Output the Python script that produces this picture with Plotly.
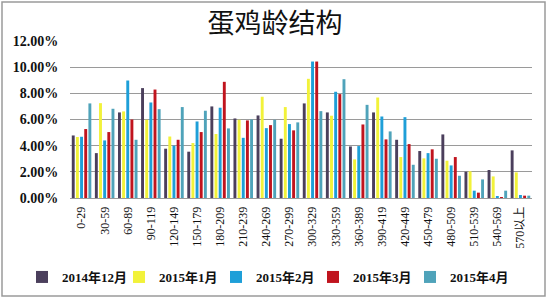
import plotly.graph_objects as go

categories = ["0-29", "30-59", "60-89", "90-119", "120-149", "150-179", "180-209",
              "210-239", "240-269", "270-299", "300-329", "330-359", "360-389",
              "390-419", "420-449", "450-479", "480-509", "510-539", "540-569", "570以上"]

s_2014_12 = [4.78, 3.43, 6.54, 8.40, 3.77, 3.54, 7.00, 6.08, 6.31, 4.53, 7.23, 6.54, 3.94,
             6.54, 4.45, 3.59, 4.86, 2.01, 2.14, 3.64]
s_2015_01 = [4.66, 7.25, 6.62, 5.98, 4.70, 4.20, 4.89, 5.98, 7.74, 6.95, 9.11, 6.29, 2.95,
             7.68, 3.13, 3.03, 2.85, 2.04, 1.65, 1.96]
s_2015_02 = [4.68, 4.40, 8.98, 7.30, 4.00, 5.85, 6.90, 4.60, 5.34, 5.65, 10.43, 8.12, 3.97,
             6.23, 6.18, 3.43, 2.49, 0.56, 0.10, 0.23]
s_2015_03 = [5.27, 5.04, 6.00, 8.29, 4.45, 5.04, 8.88, 5.93, 5.57, 5.17, 10.43, 7.94, 5.62,
             4.48, 4.12, 3.72, 3.13, 0.41, 0.03, 0.18]
s_2015_04 = [7.23, 6.82, 4.45, 6.79, 6.95, 6.67, 5.32, 6.00, 5.98, 5.78, 6.64, 9.08, 7.12,
             5.09, 2.54, 3.00, 1.70, 1.42, 0.56, 0.18]

series_names = ["2014年12月", "2015年1月", "2015年2月", "2015年3月", "2015年4月"]
series_values = [s_2014_12, s_2015_01, s_2015_02, s_2015_03, s_2015_04]
colors = ["#4B3F5C", "#F2F23A", "#1E9FD8", "#C0141E", "#4FA3BA"]

fig = go.Figure()
for name, vals, col in zip(series_names, series_values, colors):
    fig.add_trace(go.Bar(
        x=categories, y=[v / 100 for v in vals], name=name,
        marker=dict(color=col, line=dict(width=0)),
    ))

W, H = 550, 300
ml, mr, mt, mb = 70, 18, 41, 102
pw, ph = W - ml - mr, H - mt - mb

def px2paper_x(px):
    return (px - ml) / pw

def px2paper_y(py):
    return (H - mb - py) / ph

fig.update_layout(
    width=W, height=H,
    margin=dict(l=ml, r=mr, t=mt, b=mb, autoexpand=False),
    paper_bgcolor="white", plot_bgcolor="white",
    barmode="group", bargap=0.1, bargroupgap=0.3,
    title=dict(text="蛋鸡龄结构", x=275 / W, xref="container", xanchor="center",
               y=1 - 24 / H, yanchor="middle",
               font=dict(family="Noto Sans CJK SC", size=27, color="#111")),
    font=dict(family="Liberation Serif, Noto Sans CJK SC", color="#111"),
    showlegend=True,
    legend=dict(orientation="h", x=px2paper_x(22), xanchor="left", xref="paper",
                y=px2paper_y(277), yref="paper", yanchor="middle",
                font=dict(family="Liberation Serif, Noto Sans CJK SC", size=13, color="#111", weight="bold"),
                itemwidth=30, tracegroupgap=0,
                entrywidth=52, entrywidthmode="pixels"),
    yaxis=dict(range=[0, 0.12], dtick=0.02, tickformat=".2%", automargin=False,
               showgrid=True, gridcolor="#9a9a9a", gridwidth=1,
               zeroline=True, zerolinecolor="#9a9a9a", zerolinewidth=1,
               showline=False, ticks="outside", ticklen=8, tickcolor="rgba(0,0,0,0)",
               tickfont=dict(family="Liberation Serif", size=14, color="#111", weight="bold")),
    xaxis=dict(tickangle=-90, showline=False, ticks="outside", ticklen=3,
               tickcolor="rgba(0,0,0,0)", showgrid=False, automargin=False,
               tickfont=dict(family="Liberation Serif, Noto Sans CJK SC", size=12, color="#111"),
               range=[-0.5, len(categories) - 0.5]),
    shapes=[dict(type="rect", xref="paper", yref="paper",
                 x0=px2paper_x(2), x1=px2paper_x(545),
                 y0=px2paper_y(296), y1=px2paper_y(2),
                 line=dict(color="#9a9a9a", width=1.5), fillcolor="rgba(0,0,0,0)",
                 layer="below")],
)

fig.write_html("out.html")
